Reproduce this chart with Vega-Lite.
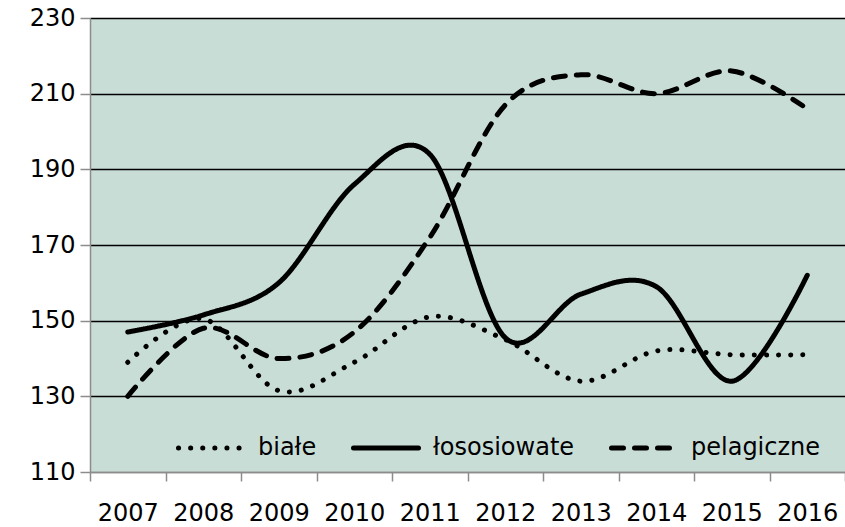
{
  "$schema": "https://vega.github.io/schema/vega-lite/v6.json",
  "width": 755,
  "height": 454,
  "autosize": "none",
  "padding": {"left": 90, "top": 18, "right": 0, "bottom": 55},
  "background": "white",
  "config": {
    "view": {"fill": "#c9ddd7", "stroke": null},
    "font": "DejaVu Sans"
  },
  "data": {
    "values": [
      {"rok": "2007", "seria": "białe", "wartosc": 139},
      {"rok": "2008", "seria": "białe", "wartosc": 150.5},
      {"rok": "2009", "seria": "białe", "wartosc": 131.5},
      {"rok": "2010", "seria": "białe", "wartosc": 139},
      {"rok": "2011", "seria": "białe", "wartosc": 151},
      {"rok": "2012", "seria": "białe", "wartosc": 145},
      {"rok": "2013", "seria": "białe", "wartosc": 134},
      {"rok": "2014", "seria": "białe", "wartosc": 142},
      {"rok": "2015", "seria": "białe", "wartosc": 141},
      {"rok": "2016", "seria": "białe", "wartosc": 141},
      {"rok": "2007", "seria": "łososiowate", "wartosc": 147},
      {"rok": "2008", "seria": "łososiowate", "wartosc": 151.5},
      {"rok": "2009", "seria": "łososiowate", "wartosc": 160},
      {"rok": "2010", "seria": "łososiowate", "wartosc": 186},
      {"rok": "2011", "seria": "łososiowate", "wartosc": 194},
      {"rok": "2012", "seria": "łososiowate", "wartosc": 145.5},
      {"rok": "2013", "seria": "łososiowate", "wartosc": 157},
      {"rok": "2014", "seria": "łososiowate", "wartosc": 159},
      {"rok": "2015", "seria": "łososiowate", "wartosc": 134},
      {"rok": "2016", "seria": "łososiowate", "wartosc": 162},
      {"rok": "2007", "seria": "pelagiczne", "wartosc": 130},
      {"rok": "2008", "seria": "pelagiczne", "wartosc": 148},
      {"rok": "2009", "seria": "pelagiczne", "wartosc": 140},
      {"rok": "2010", "seria": "pelagiczne", "wartosc": 147},
      {"rok": "2011", "seria": "pelagiczne", "wartosc": 172},
      {"rok": "2012", "seria": "pelagiczne", "wartosc": 207},
      {"rok": "2013", "seria": "pelagiczne", "wartosc": 215},
      {"rok": "2014", "seria": "pelagiczne", "wartosc": 210},
      {"rok": "2015", "seria": "pelagiczne", "wartosc": 216},
      {"rok": "2016", "seria": "pelagiczne", "wartosc": 206}
    ]
  },
  "mark": {"type": "line", "interpolate": "cardinal", "tension": 0, "color": "black", "strokeWidth": 5, "strokeCap": "round"},
  "encoding": {
    "x": {
      "field": "rok",
      "type": "ordinal",
      "scale": {"type": "band", "paddingInner": 0, "paddingOuter": 0},
      "axis": {
        "title": null,
        "labelAngle": 0,
        "labelFontSize": 24,
        "labelColor": "black",
        "labelPadding": 20,
        "tickBand": "extent",
        "tickSize": 9,
        "tickColor": "#8c8c8c",
        "tickWidth": 1.5,
        "domainColor": "#8c8c8c",
        "domainWidth": 1.5,
        "grid": false
      }
    },
    "y": {
      "field": "wartosc",
      "type": "quantitative",
      "scale": {"domain": [110, 230], "nice": false, "zero": false},
      "axis": {
        "title": null,
        "values": [110, 130, 150, 170, 190, 210, 230],
        "labelFontSize": 24,
        "labelColor": "black",
        "labelPadding": 5,
        "tickSize": 10,
        "tickColor": "#8c8c8c",
        "tickWidth": 1.5,
        "domainColor": "#8c8c8c",
        "domainWidth": 1.5,
        "grid": true,
        "gridColor": {"condition": {"test": "datum.value === 110", "value": "#8c8c8c"}, "value": "black"},
        "gridWidth": 1.5
      }
    },
    "strokeDash": {
      "field": "seria",
      "type": "nominal",
      "scale": {
        "domain": ["białe", "łososiowate", "pelagiczne"],
        "range": [[0.1, 12], [1, 0], [12, 11]]
      },
      "legend": {
        "title": null,
        "orient": "none",
        "direction": "horizontal",
        "legendX": 86,
        "legendY": 395,
        "symbolType": "stroke",
        "symbolSize": 4225,
        "symbolStrokeWidth": 5,
        "symbolStrokeColor": "black",
        "labelFontSize": 24,
        "labelColor": "black",
        "labelOffset": 12,
        "columnPadding": 26,
        "labelLimit": 300,
        "encode": {"symbols": {"update": {"strokeCap": {"value": "round"}, "opacity": {"value": 1}}}}
      }
    }
  }
}
